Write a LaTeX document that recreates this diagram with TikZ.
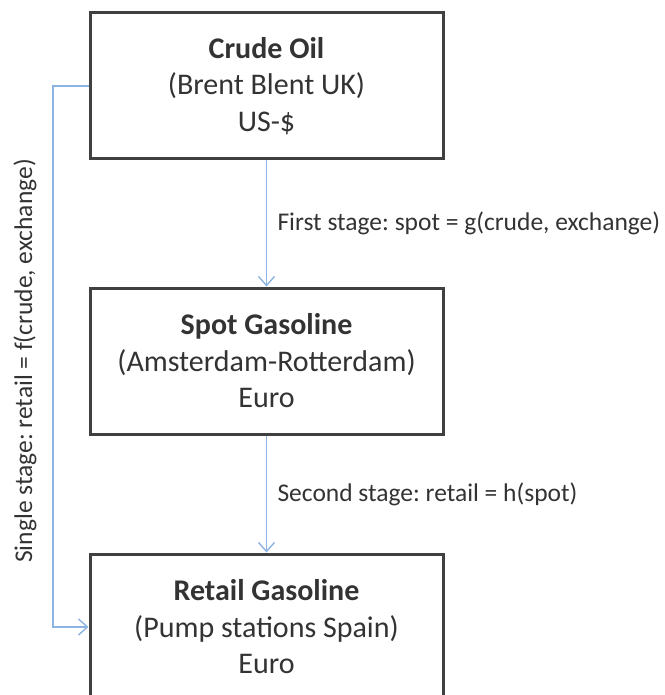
\documentclass[tikz,border=0pt]{standalone}
\usepackage{fontspec}
\setmainfont{Carlito}
\usetikzlibrary{positioning,arrows.meta}
\frenchspacing

\definecolor{boxline}{HTML}{404040}
\definecolor{txt}{HTML}{333333}
\definecolor{flowblue}{HTML}{8DB3E2}

\tikzset{
  stagebox/.style={draw=boxline, line width=3pt, minimum width=353pt, minimum height=146pt,
    align=center, text=txt, font=\fontsize{30}{36.5}\selectfont, inner sep=0pt},
  flow/.style={draw=flowblue, line width=1.4pt, -{Straight Barb[length=9pt,width=16pt]}},
  flowlabel/.style={text=txt, font=\fontsize{25.5}{30}\selectfont}
}

\begin{document}
\begin{tikzpicture}[x=1pt, y=-1pt]
  \useasboundingbox (0,0) rectangle (664,695);
  \node[stagebox] (crude) at (266.5,86) {\textbf{Crude Oil}\\(Brent Blent UK)\\US-\$};
  \node[stagebox] (spot) at (266.5,361) {\textbf{Spot Gasoline}\\(Amsterdam-Rotterdam)\\Euro};
  \node[stagebox] (retail) at (266.5,627) {\textbf{Retail Gasoline}\\(Pump stations Spain)\\Euro};

  \draw[flow] (crude.south) -- node[flowlabel, right=7pt] {First stage: spot = g(crude, exchange)} (spot.north);
  \draw[flow] (spot.south) -- node[flowlabel, right=7pt] {Second stage: retail = h(spot)} (retail.north);

  % single stage path on the left
  \coordinate (bend) at (53,0);
  \draw[flow] (crude.west) -- (crude.west -| bend) -- (retail.west -| bend) -- (retail.west);
  \node[flowlabel, rotate=90] (single) at (25,361) {Single stage: retail = f(crude, exchange)};
\end{tikzpicture}
\end{document}
